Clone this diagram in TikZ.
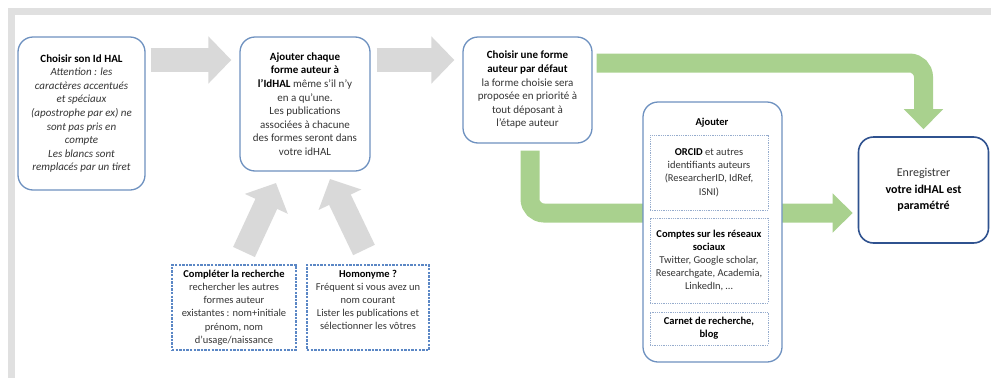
\documentclass[tikz,border=0pt]{standalone}
\usepackage{fontspec}
\setmainfont{Carlito}
\usetikzlibrary{positioning, arrows.meta, backgrounds}
\definecolor{Bordo}{RGB}{110, 145, 192}
\definecolor{BordoScuro}{RGB}{47, 82, 143}
\definecolor{Tratteggio}{RGB}{91, 135, 197}
\definecolor{Puntini}{RGB}{150, 172, 205}
\definecolor{Grigio}{RGB}{217, 217, 217}
\definecolor{Cornice}{RGB}{224, 224, 224}
\definecolor{Verde}{RGB}{169, 209, 142}
\definecolor{Testo}{RGB}{52, 52, 52}
\newcommand{\gras}[1]{\textbf{\color{black}#1}}
\tikzset{
    etape/.style = {draw=Bordo, line width=1.3pt, rounded corners=15pt, fill=white, align=center, text=Testo, inner sep=2pt},
    etape finale/.style = {etape, draw=BordoScuro, line width=1.6pt},
    encadre/.style = {draw=Puntini, dash pattern=on 1pt off 0.8pt, line width=1pt, fill=white, align=center, text=Testo, inner sep=2pt},
    pointille/.style = {draw=Tratteggio, dash pattern=on 2.4pt off 1.2pt, line width=1.1pt, align=center, text=Testo, inner sep=2pt},
    fleche grise/.style = {Grigio, line width=24pt, -{Triangle[width=46pt, length=23pt]}},
    fleche verte/.style = {Verde, line width=19pt, rounded corners=14pt, -{Triangle[width=38pt, length=20pt]}}
}

\begin{document}
\begin{tikzpicture}[
        x=1pt, y=-1pt,
        font=\fontsize{11}{13.6}\selectfont,
        petit/.style = {font=\fontsize{10.5}{13.2}\selectfont}
    ]
    \useasboundingbox (0,0) rectangle (991,378);
    % cadre gris
    \fill[Cornice] (8,8) rectangle (991,15);
    \fill[Cornice] (8,8) rectangle (15,378);

    \node[etape, minimum width=127pt, minimum height=153pt] (choix) at (81.5,113.5)
        {\gras{Choisir son Id HAL}\\ \textit{Attention : les}\\ \textit{caractères accentués}\\ \textit{et spéciaux}\\ \textit{(apostrophe par ex) ne}\\ \textit{sont pas pris en}\\ \textit{compte}\\ \textit{Les blancs sont}\\ \textit{remplacés par un tiret}};
    \node[etape, minimum width=130pt, minimum height=134pt] (ajout) at (305,104)
        {\gras{Ajouter chaque}\\ \gras{forme auteur à}\\ \gras{l’IdHAL} même s’il n’y\\ en a qu’une.\\ Les publications\\ associées à chacune\\ des formes seront dans\\ votre idHAL};
    \node[etape, minimum width=129pt, minimum height=106pt] (defaut) at (527.5,90)
        {\gras{Choisir une forme}\\ \gras{auteur par défaut}\\ la forme choisie sera\\ proposée en priorité à\\ tout déposant à\\ l’étape auteur};
    \node[etape finale, minimum width=130pt, minimum height=106pt, font=\fontsize{12}{16.5}\selectfont] (enregistrer) at (923.5,190)
        {Enregistrer\\ \gras{votre idHAL est}\\ \gras{paramétré}};

    % bloc ajouter
    \node[etape, minimum width=139pt, minimum height=260pt] (profils) at (712.5,232) {};
    \node[petit] (titre) at (712,123) {\gras{Ajouter}};
    \node[encadre, petit, minimum width=118pt, minimum height=75pt] (orcid) at (709,172.5)
        {\gras{ORCID} et autres\\ identifiants auteurs\\ (ResearcherID, IdRef,\\ ISNI)};
    \node[encadre, petit, minimum width=118pt, minimum height=85pt] (reseaux) at (709,260.5)
        {\gras{Comptes sur les réseaux}\\ \gras{sociaux}\\ Twitter, Google scholar,\\ Researchgate, Academia,\\ LinkedIn, …};
    \node[encadre, petit, minimum width=118pt, minimum height=33pt] (carnet) at (709,328.5)
        {\gras{Carnet de recherche,}\\ \gras{blog}};

    % encadres du bas
    \node[pointille, petit, minimum width=124pt, minimum height=85pt] (completer) at (234,307.5)
        {\gras{Compléter la recherche}\\ rechercher les autres\\ formes auteur\\ existantes : nom+initiale\\ prénom, nom\\ d’usage/naissance};
    \node[pointille, petit, minimum width=122pt, minimum height=85pt] (homonyme) at (368,307.5)
        {\gras{Homonyme ?}\\ Fréquent si vous avez un\\ nom courant\\ Lister les publications et\\ sélectionner les vôtres\\[2pt]};

    \coordinate (depart1) at (244,252);
    \coordinate (arrivee1) at (276,183);
    \coordinate (depart2) at (364,250);
    \coordinate (arrivee2) at (330,179);

    \begin{pgfonlayer}{background}
        \draw[fleche grise, shorten <=5pt, shorten >=8pt] (choix.east |- 0,60) -- (ajout.west |- 0,60);
        \draw[fleche grise, shorten <=6pt, shorten >=8pt] (ajout.east |- 0,60) -- (defaut.west |- 0,60);
        \draw[fleche grise] (depart1) -- (arrivee1);
        \draw[fleche grise] (depart2) -- (arrivee2);
        \draw[fleche verte, shorten <=4pt, shorten >=7pt] (defaut.east |- 0,63) -| (enregistrer.north);
        \draw[fleche verte, shorten <=7pt, shorten >=5pt] ([xshift=2.5pt]defaut.south) |- (enregistrer.west |- 0,213);
    \end{pgfonlayer}
\end{tikzpicture}
\end{document}
